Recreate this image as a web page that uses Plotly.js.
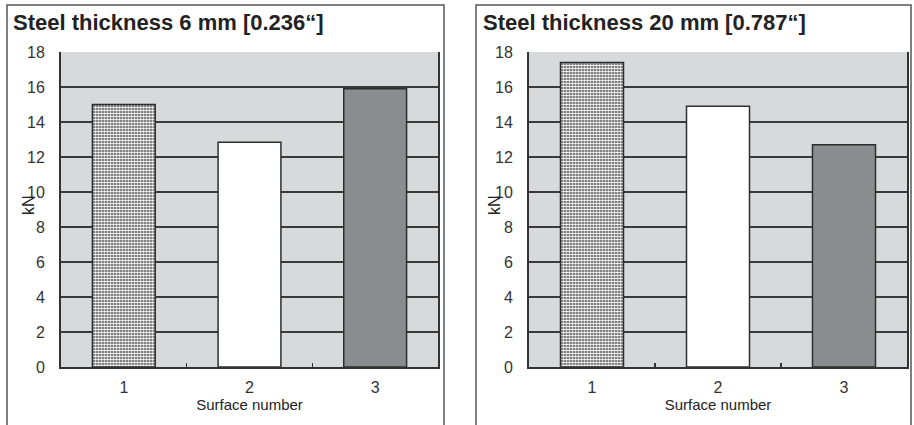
<!DOCTYPE html>
<html>
<head>
<meta charset="utf-8">
<script src="https://cdn.plot.ly/plotly-3.0.1.min.js"></script>
<style>html,body{margin:0;padding:0;background:#fff;}#chart{width:914px;height:425px;}</style>
</head>
<body>
<div id="chart"></div>
<script>
const categories = ["1", "2", "3"];
const values6mm = [15.0, 12.85, 15.9];
const values20mm = [17.4, 14.9, 12.7];
const panelTitles = ["Steel thickness 6 mm [0.236\u201C]", "Steel thickness 20 mm [0.787\u201C]"];
const yTickVals = [0, 2, 4, 6, 8, 10, 12, 14, 16, 18];
const xTitle = "Surface number";
const yTitle = "kN";

const W = 914, H = 425;
const px = v => v / W, py = v => 1 - v / H;

const barColors = ["#444444", "#ffffff", "#8b8c8f"];
const patternShapes = [".", "", ""];
const patternFg = ["#ffffff", "#ffffff", "#ffffff"];
const FAM = "Liberation Sans, Arial, sans-serif";

function barTrace(vals, xa, ya) {
  return {
    type: "bar", x: categories, y: vals, xaxis: xa, yaxis: ya,
    width: 0.5,
    marker: {
      color: barColors,
      line: {color: "#2e2e2e", width: 1.5},
      pattern: {shape: patternShapes, fillmode: "overlay", fgcolor: patternFg, fgopacity: 1, size: 3, solidity: 0.62}
    },
    hoverinfo: "skip", showlegend: false
  };
}

function xaxisDef(d0, d1, anchor) {
  return {
    domain: [px(d0), px(d1)], anchor: anchor, type: "category",
    showline: true, linecolor: "#333", linewidth: 1.5,
    ticks: "inside", tickson: "boundaries", ticklen: 4, tickcolor: "#333", tickwidth: 1.5,
    tickfont: {size: 16, color: "#333", family: FAM}, ticklabelstandoff: 5,
    title: {text: xTitle, font: {size: 15, color: "#222", family: FAM}, standoff: 4},
    showgrid: false, zeroline: false, fixedrange: true
  };
}
function yaxisDef(anchor) {
  return {
    domain: [py(367), py(52)], anchor: anchor, range: [0, 18],
    tickvals: yTickVals, ticks: "",
    showline: true, mirror: true, linecolor: "#333", linewidth: 2,
    showgrid: true, gridcolor: "#3a3a3a", gridwidth: 1.5,
    zeroline: false, tickfont: {size: 16, color: "#333", family: FAM}, ticklabelstandoff: 11,
    fixedrange: true
  };
}

const data = [barTrace(values6mm, "x", "y"), barTrace(values20mm, "x2", "y2")];

const boxLine = {color: "#555", width: 1.5};
function titleAnn(text, x) {
  return {text: "<b>" + text + "</b>", xref: "paper", yref: "paper", x: px(x), y: py(23), xanchor: "left", yanchor: "middle", showarrow: false, font: {size: 22, color: "#222", family: FAM}};
}
function yTitleAnn(x) {
  return {text: yTitle, xref: "paper", yref: "paper", x: px(x), y: py(205), xanchor: "center", yanchor: "middle", textangle: -90, showarrow: false, font: {size: 16, color: "#222", family: FAM}};
}
const layout = {
  width: W, height: H,
  margin: {l: 0, r: 0, t: 0, b: 0},
  paper_bgcolor: "#ffffff", plot_bgcolor: "#d8d9db",
  font: {family: FAM, color: "#333", size: 15}, bargap: 0.5,
  xaxis: xaxisDef(61, 438, "y"),
  yaxis: yaxisDef("x"),
  xaxis2: xaxisDef(529, 907, "y2"),
  yaxis2: yaxisDef("x2"),
  annotations: [
    titleAnn(panelTitles[0], 11),
    titleAnn(panelTitles[1], 481),
    yTitleAnn(28),
    yTitleAnn(494)
  ],
  shapes: [
    {type: "path", xref: "paper", yref: "paper", path: `M ${px(7)},0 L ${px(7)},${py(5)} L ${px(444)},${py(5)} L ${px(444)},0`, line: boxLine},
    {type: "path", xref: "paper", yref: "paper", path: `M ${px(476)},0 L ${px(476)},${py(5)} L ${px(911)},${py(5)} L ${px(911)},0`, line: boxLine}
  ]
};

Plotly.newPlot("chart", data, layout, {staticPlot: true, displayModeBar: false});
</script>
</body>
</html>
